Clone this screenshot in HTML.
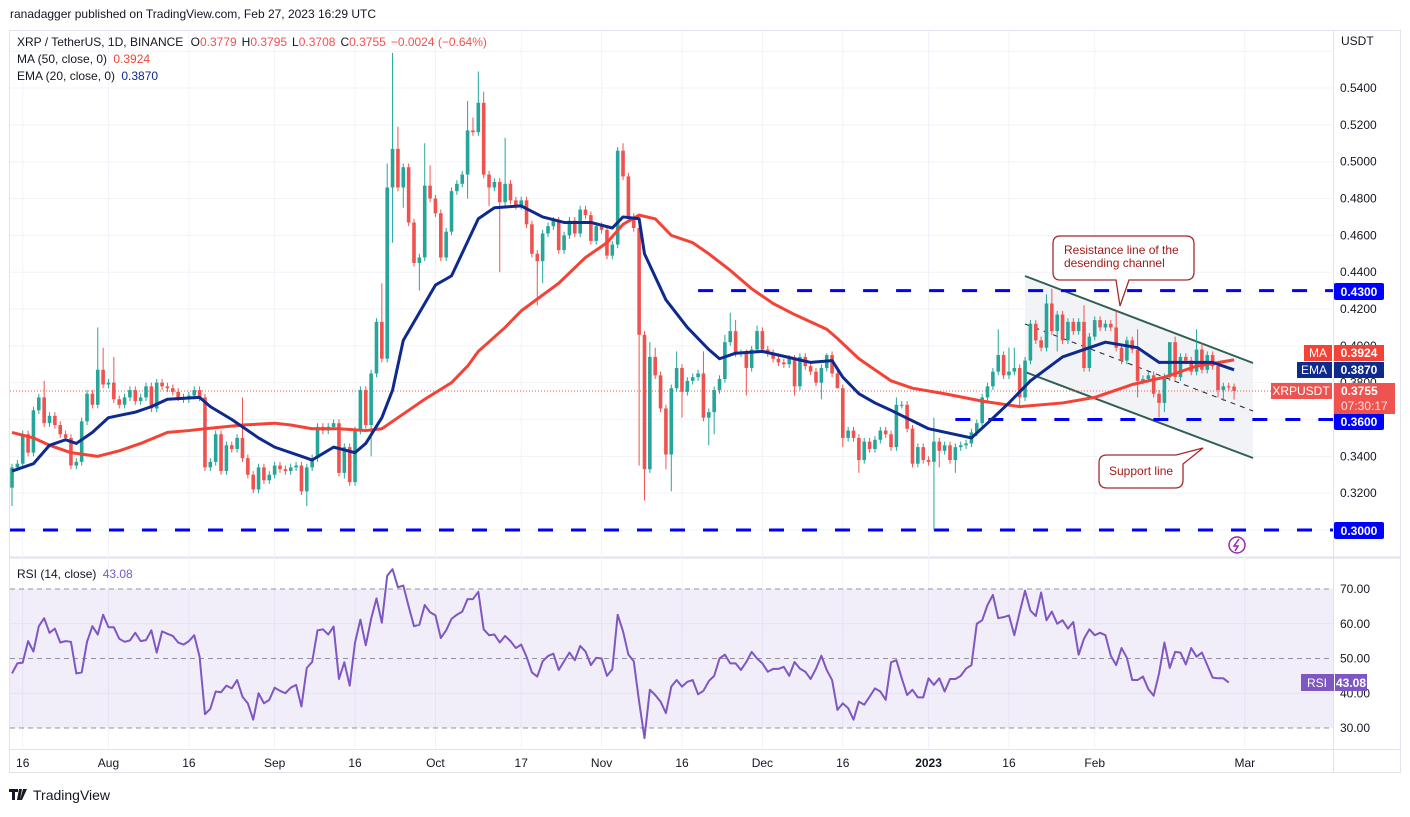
<!DOCTYPE html>
<html><head><meta charset="utf-8">
<style>
html,body{margin:0;padding:0;background:#fff;}
body{width:1410px;height:812px;overflow:hidden;font-family:"Liberation Sans",sans-serif;}
svg text{font-family:"Liberation Sans",sans-serif;}
</style></head>
<body>
<svg id="chart" width="1410" height="812" viewBox="0 0 1410 812" xmlns="http://www.w3.org/2000/svg">
<rect x="0" y="0" width="1410" height="812" fill="#ffffff"/>
<text x="10" y="18" font-size="12" fill="#131722">ranadagger published on TradingView.com, Feb 27, 2023 16:29 UTC</text>
<rect x="9.5" y="30.5" width="1391" height="742" fill="none" stroke="#e0e3eb"/>
<line x1="1333.5" y1="31" x2="1333.5" y2="772" stroke="#e0e3eb"/>
<line x1="10" y1="557.5" x2="1400" y2="557.5" stroke="#e0e3eb" stroke-width="2"/>
<line x1="10" y1="749.5" x2="1400" y2="749.5" stroke="#e0e3eb"/>
<g id="grid"></g>
<g id="channel"></g>
<g id="levels"></g>
<g id="candles"></g>
<g id="avgs"></g>
<g id="rsi"></g>
<g id="axes"></g>
<g id="notes"></g>
</svg>
<script>
// ---- data ----
const closes = [
.334,.336,.352,.342,.365,.372,.358,.362,.357,.352,
.350,.335,.337,.359,.374,.368,.387,.379,.380,.371,
.368,.372,.376,.370,.372,.378,.366,.380,.378,.377,
.375,.372,.371,.373,.376,.372,.334,.337,.352,.332,
.346,.344,.350,.339,.330,.322,.334,.327,.330,.335,
.333,.332,.334,.335,.321,.334,.339,.356,.354,.356,
.358,.331,.345,.326,.354,.376,.357,.385,.413,.393,
.486,.507,.486,.497,.467,.445,.448,.487,.480,.472,
.448,.462,
.484,.488,.493,.517,.516,.532,.493,.486,.489,.478,
.488,.479,.476,.479,.466,.450,.446,.461,.465,.468,
.452,.460,.468,.461,.474,.471,.457,.465,.463,.449,
.455,.506,.492,.470,.464,.406,.333,.394,.384,.366,
.341,.377,.388,.375,.381,.383,.385,.361,.364,.376,
.382,.402,.408,.396,.396,.388,.398,.408,.398,.396,
.393,.391,.390,.393,.378,.394,.389,.386,.380,.388,
.395,.385,.377,.350,.354,.350,.338,.348,.344,.349,
.354,.352,
.345,.368,.368,.355,.336,.345,.338,.337,.348,.343,
.346,.338,.345,.346,.347,.353,.358,.372,.378,.386,
.395,.384,.386,.388,.372,.392,.412,.403,.399,.423,
.408,.417,.403,.413,.408,.413,.388,.405,.414,.410,
.412,.410,.399,.392,.403,.398,.381,.382,.384,.374,
.369,.383,.402,.383,.394,.392,.386,.398,.387,.395,
.389,.376,.378,.3779,.3755];
const firstOpen = 0.323;
const highOverrides = {6:.381,16:.410,17:.399,19:.394,43:.372,69:.434,70:.499,71:.559,72:.519,77:.510,78:.498,
85:.533,86:.524,87:.549,88:.538,92:.513,113:.508,114:.510,119:.402,120:.399,124:.397,129:.397,133:.406,134:.418,135:.414,139:.411,140:.410,152:.396,
165:.372,172:.361,184:.409,186:.399,187:.399,190:.414,193:.428,194:.431,200:.422,206:.419,210:.409,216:.402,217:.405,221:.409,222:.402,227:.380,228:.3795};
const lowOverrides = {0:.313,55:.313,62:.328,67:.340,71:.456,73:.475,76:.430,85:.480,89:.476,91:.440,98:.422,99:.434,
117:.335,118:.316,122:.333,123:.321,125:.361,130:.346,131:.352,137:.373,146:.373,151:.371,154:.377,155:.345,158:.331,159:.336,
168:.334,172:.300,173:.334,176:.331,188:.366,195:.397,200:.386,210:.372,214:.361,215:.364,225:.372,226:.370,228:.3708};
const maDays = [0,4,7,11,16,20,24,29,33,36,43,49,52,56,61,66,69,74,77,82,85,87,92,95,102,107,111,114,117,120,123,127,130,134,138,142,146,152,154,158,162,164,168,174,181,188,196,202,209,215,221,228];
const maVals = [.353,.350,.346,.342,.340,.343,.347,.353,.354,.355,.357,.358,.357,.355,.355,.354,.355,.365,.371,.380,.389,.397,.410,.419,.434,.448,.456,.466,.471,.469,.460,.456,.450,.441,.431,.423,.417,.409,.404,.393,.385,.381,.377,.374,.370,.367,.369,.372,.379,.383,.389,.3924];
const emaDays = [0,4,7,10,12,15,18,23,26,29,35,37,41,46,49,54,56,60,64,66,69,71,73,76,79,82,87,90,95,99,103,108,112,114,117,118,122,126,130,132,135,140,146,149,153,155,158,161,164,171,179,182,186,190,196,204,210,214,218,224,228];
const emaVals = [.332,.336,.346,.349,.347,.353,.361,.364,.367,.371,.372,.367,.360,.350,.345,.340,.338,.345,.342,.347,.361,.376,.403,.418,.433,.438,.469,.475,.476,.470,.467,.467,.464,.470,.469,.450,.425,.410,.398,.393,.396,.397,.393,.391,.392,.383,.374,.369,.365,.355,.350,.358,.369,.381,.394,.402,.399,.391,.391,.391,.387];
const rsiVals = [
45.7,48.6,48.8,55,52,59.3,61.6,57.4,58.6,54.6,
55,54.8,45.7,46,54.8,59.3,56.9,62.6,59,59,
55.7,54.8,55.2,57.4,55,55.3,58.1,51.7,57.8,57.1,
56.5,54.6,54,55,56.7,50.5,34,35.5,40.5,40.3,
42.2,41.4,43.8,39,37.1,32.4,40,37.1,38.1,41.6,
40.7,40,41.6,42.4,36.2,47.3,49,58.1,58.4,56.9,
59.2,44.1,48.9,42.2,54.6,61.2,53.8,61.4,67.3,60.3,
73.8,75.7,70.5,71,65,59.3,59.7,65.4,63.3,62.4,
55.9,58.1,61.4,62.6,63.5,67.1,67.1,69.2,58.4,56.7,
56.9,54.6,56.5,55,53,54,50.5,46,44.8,49.2,
50.7,51.4,46.7,49.2,51.7,49.5,53.6,52,48.1,50.2,
50,45,46.9,62.6,57.8,51.1,49.2,37.6,
27.1,41,39.5,37.6,34.3,41.9,43.8,41.9,43.3,43.8,
39.7,40.7,43.5,45,50,51.1,48.6,48.6,46.7,49,
51.9,50,48.6,46.2,47,47,47.6,45,49,47.1,
46.2,44.1,47.1,50.8,46.7,43.8,35.2,37.1,35.7,32.4,
37.6,36.7,39,41.4,40.5,38.1,48.9,49.5,44.3,39.5,
41,38.8,38.8,44.3,42.4,44.3,40.5,44.1,44.1,45,
47.1,48.1,60,61,65.4,68.3,61.6,61.9,62.4,56.7,
63.3,69.5,63.8,62.2,69,61,63.5,60,61,58.6,
60.5,51.1,55.7,58.4,56.7,57.4,56.7,50.8,48.1,53,
50.2,43.8,43.8,44.8,41.2,39.3,45.7,54.6,47.3,51.9,
51.7,48.3,53,50.5,51.7,48.1,44.5,44.3,44.3,43.08];
const dateLabels = ["16","Aug","16","Sep","16","Oct","17","Nov","16","Dec","16","2023","16","Feb","Mar"];
const dateDays = [2,18,33,49,64,79,95,110,125,140,155,171,186,202,230];
const priceTicks = [0.56,0.54,0.52,0.50,0.48,0.46,0.44,0.42,0.40,0.38,0.36,0.34,0.32,0.30];
const rsiTicks = [70,60,50,40,30];
const levelVals = [0.43,0.36,0.30];
const levelStartDays = [128,176,-1];

// ---- scales ----
const NS="http://www.w3.org/2000/svg";
const xOf = i => 12 + i*5.36;
const yOf = p => 530 - (p-0.30)*1841.5;
const ryOf = v => 728 - (v-30)*3.475;
function mk(tag, attrs, parent){const e=document.createElementNS(NS,tag);for(const k in attrs)e.setAttribute(k,attrs[k]);parent.appendChild(e);return e;}
const G = id=>document.getElementById(id);

// grid
const grid=G('grid');
dateDays.forEach((d,k)=>{
  const l=mk('line',{x1:xOf(d),y1:31,x2:xOf(d),y2:749,stroke:'#f0f3fa'},grid);
  
  
});
priceTicks.forEach(p=>{
  const l=mk('line',{x1:10,y1:yOf(p),x2:1333,y2:yOf(p),stroke:'#f0f3fa'},grid);
  
  
});

// channel
const ch=G('channel');
const cx1=1025,cx2=1253;
const chFill=mk('polygon',{points:`${cx1},276 ${cx2},363 ${cx2},458 ${cx1},372`,fill:'#f0f2f5','fill-opacity':'0.9'},ch);


const rl=mk('line',{x1:cx1,y1:276,x2:cx2,y2:363,stroke:'#2f5e52','stroke-width':2},ch);


const sl=mk('line',{x1:cx1,y1:372,x2:cx2,y2:458,stroke:'#2f5e52','stroke-width':2},ch);


const ml=mk('line',{x1:cx1,y1:324,x2:cx2,y2:411,stroke:'#222','stroke-width':1,'stroke-dasharray':'5,5'},ch);



// levels
const lv=G('levels');
levelVals.forEach((p,k)=>{
  const l=mk('line',{x1:k===2?10:xOf(levelStartDays[k]),y1:yOf(p),x2:1333,y2:yOf(p),stroke:'#0000ff','stroke-width':3,'stroke-dasharray':'15,18'},lv);
  
  
});
const last=closes[closes.length-1];
const pl=mk('line',{x1:10,y1:yOf(last),x2:1333,y2:yOf(last),stroke:'#ef5350','stroke-width':1,'stroke-dasharray':'1,2'},lv);



// candles
const cg=G('candles');
closes.forEach((c,i)=>{
  const o = i===0?firstOpen:closes[i-1];
  const h = highOverrides[i]!==undefined?highOverrides[i]:Math.max(o,c)+0.002;
  const lo = lowOverrides[i]!==undefined?lowOverrides[i]:Math.min(o,c)-0.002;
  const col = c>=o?'#26a69a':'#ef5350';
  const x=xOf(i);
  const g=mk('g',{},cg);
  
  
  mk('line',{x1:x,y1:yOf(h),x2:x,y2:yOf(lo),stroke:col,'stroke-width':1},g);
  const top=yOf(Math.max(o,c)),bot=yOf(Math.min(o,c));
  mk('rect',{x:x-1.8,y:top,width:3.6,height:Math.max(1,bot-top),fill:col},g);
});

// averages
const ag=G('avgs');
const maPath=mk('polyline',{points:maDays.map((d,k)=>xOf(d)+','+yOf(maVals[k])).join(' '),fill:'none',stroke:'#f44336','stroke-width':3,'stroke-linejoin':'round'},ag);


const emaPath=mk('polyline',{points:emaDays.map((d,k)=>xOf(d)+','+yOf(emaVals[k])).join(' '),fill:'none',stroke:'#0d2a8c','stroke-width':3,'stroke-linejoin':'round'},ag);



// rsi
const rg=G('rsi');
const band=mk('rect',{x:10,y:ryOf(70),width:1323,height:ryOf(30)-ryOf(70),fill:'#7e57c2','fill-opacity':0.1},rg);


rsiTicks.forEach(v=>{
  const dashed = (v===70||v===50||v===30);
  const l=mk('line',{x1:10,y1:ryOf(v),x2:1333,y2:ryOf(v),stroke:dashed?'#787b86':'#e6e1f2','stroke-width':1,'stroke-dasharray':dashed?'5,4':'none','stroke-opacity':dashed?0.8:1},rg);
  
  
});
const rp=mk('polyline',{points:rsiVals.map((v,i)=>xOf(i)+','+ryOf(v)).join(' '),fill:'none',stroke:'#7e57c2','stroke-width':2,'stroke-linejoin':'round'},rg);



// axes labels
const ax=G('axes');
priceTicks.forEach(p=>{
  const t=mk('text',{x:1340,y:yOf(p)+4,'font-size':12,fill:'#131722'},ax);
  t.textContent=p.toFixed(4);
  
  
});
rsiTicks.forEach(v=>{
  const t=mk('text',{x:1340,y:ryOf(v)+4,'font-size':12,fill:'#131722'},ax);
  t.textContent=v.toFixed(2);
  
  
});
dateLabels.forEach((s,k)=>{
  const t=mk('text',{x:xOf(dateDays[k]),y:767,'font-size':12,fill:'#131722','text-anchor':'middle','font-weight':s==='2023'?'bold':'normal'},ax);
  t.textContent=s;
  
  
});
</script>
<svg style="position:absolute;left:0;top:0" width="1410" height="812">
<rect x="1335" y="32" width="64" height="24" fill="#fff"/>
<text x="1341" y="45" font-size="12" fill="#131722">USDT</text>
<!-- header legend -->
<text x="17" y="46" font-size="12" fill="#131722">XRP / TetherUS, 1D, BINANCE <tspan dx="4">O</tspan><tspan fill="#ef5350">0.3779</tspan><tspan dx="5">H</tspan><tspan fill="#ef5350">0.3795</tspan><tspan dx="5">L</tspan><tspan fill="#ef5350">0.3708</tspan><tspan dx="5">C</tspan><tspan fill="#ef5350">0.3755</tspan><tspan dx="5" fill="#ef5350">−0.0024 (−0.64%)</tspan></text>
<text x="17" y="63" font-size="12" fill="#131722">MA (50, close, 0) <tspan dx="3" fill="#f44336">0.3924</tspan></text>
<text x="17" y="80" font-size="12" fill="#131722">EMA (20, close, 0) <tspan dx="3" fill="#0d2a8c">0.3870</tspan></text>
<text x="17" y="578" font-size="12" fill="#131722">RSI (14, close) <tspan dx="3" fill="#7e57c2">43.08</tspan></text>
<!-- level labels -->
<g><rect x="1334" y="283" width="50" height="17" rx="2" fill="#0000ff"/><text x="1359" y="296" font-size="12" font-weight="bold" fill="#fff" text-anchor="middle">0.4300</text></g>
<g><rect x="1334" y="413" width="50" height="17" rx="2" fill="#0000ff"/><text x="1359" y="426" font-size="12" font-weight="bold" fill="#fff" text-anchor="middle">0.3600</text></g>
<g><rect x="1334" y="522" width="50" height="17" rx="2" fill="#0000ff"/><text x="1359" y="535" font-size="12" font-weight="bold" fill="#fff" text-anchor="middle">0.3000</text></g>
<g><rect x="1304" y="345" width="28" height="16" fill="#f44336"/><text x="1318" y="357" font-size="12" fill="#fff" text-anchor="middle">MA</text><rect x="1334" y="345" width="50" height="16" fill="#f44336"/><text x="1359" y="357" font-size="12" font-weight="bold" fill="#fff" text-anchor="middle">0.3924</text></g>
<g><rect x="1297" y="362" width="35" height="16" fill="#0d2a8c"/><text x="1314" y="374" font-size="12" fill="#fff" text-anchor="middle">EMA</text><rect x="1334" y="362" width="50" height="16" fill="#0d2a8c"/><text x="1359" y="374" font-size="12" font-weight="bold" fill="#fff" text-anchor="middle">0.3870</text></g>
<g><rect x="1271" y="383" width="61" height="16" fill="#ef5350"/><text x="1301" y="395" font-size="12" fill="#fff" text-anchor="middle">XRPUSDT</text><rect x="1334" y="383" width="61" height="31" fill="#ef5350"/><text x="1341" y="395" font-size="12" font-weight="bold" fill="#fff">0.3755</text><text x="1341" y="410" font-size="12" fill="#fde0df">07:30:17</text></g>
<g><rect x="1301" y="674" width="33" height="17" fill="#7e57c2"/><text x="1317" y="687" font-size="12" fill="#fff" text-anchor="middle">RSI</text><rect x="1335" y="674" width="32" height="17" fill="#7e57c2"/><text x="1351" y="687" font-size="12" font-weight="bold" fill="#fff" text-anchor="middle">43.08</text></g>
<!-- callouts -->
<g>
<path d="M1060,236 H1186 Q1194,236 1194,244 V272 Q1194,280 1186,280 H1129 L1120,306 L1116,280 H1060 Q1053,280 1053,272 V244 Q1053,236 1060,236 Z" fill="#fff" stroke="#a52a2a" stroke-width="1.3"/>
<text x="1064" y="254" font-size="12" fill="#a11b1b">Resistance line of the</text>
<text x="1064" y="267" font-size="12" fill="#a11b1b">desending channel</text>
</g>
<g>
<path d="M1107,455 H1176 L1203,448 L1183,464 V480 Q1183,488 1175,488 H1107 Q1099,488 1099,480 V463 Q1099,455 1107,455 Z" fill="#fff" stroke="#a52a2a" stroke-width="1.3"/>
<text x="1109" y="475" font-size="12" fill="#a11b1b">Support line</text>
</g>
<g><circle cx="1237" cy="545" r="8" fill="#fff" stroke="#9c27b0" stroke-width="1.5"/><path d="M1239,539 L1234,546 H1238 L1235,551" fill="none" stroke="#9c27b0" stroke-width="1.5"/></g>
<!-- footer -->
<g><path d="M9,789 h9 v3 h-3 v8 h-3 v-8 h-3z M19,789 h3 l-2,11 h-3z M23,789 h4 l-5,11 h-2z" fill="#131722"/><text x="33" y="800" font-size="14" fill="#131722">TradingView</text></g>
</svg>
</body></html>
